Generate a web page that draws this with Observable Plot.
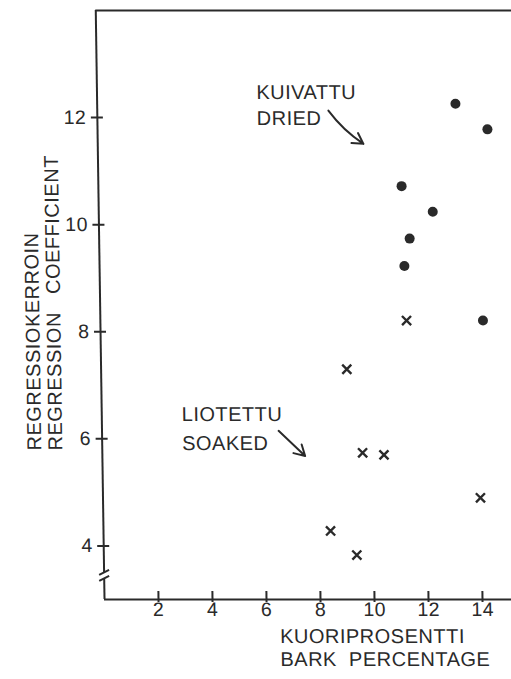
<!DOCTYPE html>
<html>
<head>
<meta charset="utf-8">
<script src="https://cdn.jsdelivr.net/npm/d3@7"></script>
<script src="https://cdn.jsdelivr.net/npm/@observablehq/plot@0.6"></script>
<style>
  html, body { margin: 0; padding: 0; background: #fff; overflow: hidden; }
  #chart svg { display: block; }
</style>
</head>
<body>
<div id="chart"></div>
<script>
// Regression coefficient against bark percentage, dried vs soaked samples
const driedBark  = [13.27, 14.44, 11.23, 12.37, 11.50, 11.29, 14.17];
const driedCoef  = [12.26, 11.78, 10.72, 10.24, 9.74, 9.23, 8.21];
const soakedBark = [11.34, 9.10, 9.64, 10.43, 13.98, 8.41, 9.37];
const soakedCoef = [8.21, 7.30, 5.74, 5.70, 4.90, 4.28, 3.83];

const xTicks = [2, 4, 6, 8, 10, 12, 14];
const yTicks = [4, 6, 8, 10, 12];

const xTitleLines = ["KUORIPROSENTTI", "BARK\u00a0\u00a0PERCENTAGE"];
const yTitleLines = ["REGRESSIOKERROIN", "REGRESSION\u00a0\u00a0\u00a0COEFFICIENT"];
const driedLabel  = ["KUIVATTU", "DRIED"];
const soakedLabel = ["LIOTETTU", "SOAKED"];

const dried  = driedBark.map((bark, i) => ({bark, coef: driedCoef[i]}));
const soaked = soakedBark.map((bark, i) => ({bark, coef: soakedCoef[i]}));

// layout
const W = 511, H = 679;
const mL = 104, mR = 0, mT = 10, mB = 80;
const plotW = W - mL - mR, plotH = H - mT - mB;
const ink = "#2a2a2a";
const font = "Liberation Sans, Arial, sans-serif";
const yBreak = 3.44;   // where the y axis is broken
const slant = 0.85;    // the drawing leans slightly: degrees of horizontal skew
const baseY = 599;     // skew pivots on the x axis line

// two short parallel slashes marking the broken axis
const breakSymbol = {
  draw(ctx) {
    ctx.moveTo(-5, -1); ctx.lineTo(5, -6);
    ctx.moveTo(-5, 5);  ctx.lineTo(5, 0);
  }
};

const chart = Plot.plot({
  width: W, height: H,
  marginLeft: mL, marginRight: mR, marginTop: mT, marginBottom: mB,
  x: {domain: [0, 15.074], axis: null},
  y: {domain: [3, 14], axis: null},
  style: {fontFamily: font, color: ink, background: "#fff", letterSpacing: "0.5px"},
  marks: [
    // frame: top edge, broken left axis, bottom axis
    Plot.ruleY([14], {insetRight: -12, stroke: ink, strokeWidth: 2}),
    Plot.ruleX([0], {y1: () => 14, y2: () => yBreak, insetBottom: 3.5, stroke: ink, strokeWidth: 2}),
    Plot.ruleX([0], {y1: () => yBreak, y2: () => 3, insetTop: 2.5, stroke: ink, strokeWidth: 2}),
    Plot.dot([0], {x: d => d, y: () => yBreak, symbol: breakSymbol, stroke: ink, strokeWidth: 2, fill: "none"}),
    Plot.ruleY([3], {stroke: ink, strokeWidth: 2}),

    // ticks crossing the axes
    Plot.tickX(xTicks, {x: d => d, insetTop: plotH - 8, insetBottom: -3, stroke: ink, strokeWidth: 2}),
    Plot.tickY(yTicks, {y: d => d, insetLeft: -6, insetRight: plotW - 6, stroke: ink, strokeWidth: 2}),

    // tick labels
    Plot.text(xTicks, {x: d => d, frameAnchor: "bottom", dy: 16, text: d => `${d}`, fontSize: 19.5, fill: ink}),
    Plot.text(yTicks, {y: d => d, frameAnchor: "left", textAnchor: "end", dx: -11, text: d => `${d}`, fontSize: 19.5, fill: ink}),

    // axis titles
    Plot.text([xTitleLines[0]], {frameAnchor: "bottom-left", textAnchor: "start", dx: 175, dy: 43.5, fontSize: 20, fill: ink}),
    Plot.text([xTitleLines[1]], {frameAnchor: "bottom-left", textAnchor: "start", dx: 175, dy: 66.5, fontSize: 20, fill: ink}),
    Plot.text([yTitleLines[0]], {frameAnchor: "bottom-left", textAnchor: "start", rotate: -90, dx: -61, dy: -149, fontSize: 20, fill: ink}),
    Plot.text([yTitleLines[1]], {frameAnchor: "bottom-left", textAnchor: "start", rotate: -90, dx: -40, dy: -149, fontSize: 20, fill: ink}),

    // group labels with pointer arrows
    Plot.text([driedLabel[0]], {x: () => 5.9, y: () => 12.46, textAnchor: "start", fontSize: 20, fill: ink}),
    Plot.text([driedLabel[1]], {x: () => 5.9, y: () => 11.99, textAnchor: "start", fontSize: 20, fill: ink}),
    Plot.arrow([0], {x1: () => 8.56, y1: () => 12.13, x2: () => 9.84, y2: () => 11.51, bend: -10, headLength: 9, stroke: ink, strokeWidth: 2}),
    Plot.text([soakedLabel[0]], {x: () => 2.96, y: () => 6.46, textAnchor: "start", fontSize: 20, fill: ink}),
    Plot.text([soakedLabel[1]], {x: () => 2.96, y: () => 5.92, textAnchor: "start", fontSize: 20, fill: ink}),
    Plot.arrow([0], {x1: () => 6.54, y1: () => 6.15, x2: () => 7.51, y2: () => 5.68, bend: 0, headLength: 9, stroke: ink, strokeWidth: 2}),

    // data
    Plot.dot(dried, {x: "bark", y: "coef", r: 5, fill: ink, stroke: "none"}),
    Plot.dot(soaked, {x: "bark", y: "coef", symbol: "times", r: 4.2, stroke: ink, strokeWidth: 2.4})
  ]
});

// lean the whole drawing inside the SVG, pivoting on the x axis
const lean = d3.select(chart).append("g")
  .attr("transform", `translate(0,${baseY}) skewX(${slant}) translate(0,${-baseY})`);
Array.from(chart.childNodes).forEach(n => { if (n !== lean.node() && n.nodeName !== "style") lean.node().appendChild(n); });

document.getElementById("chart").appendChild(chart);
</script>
</body>
</html>
